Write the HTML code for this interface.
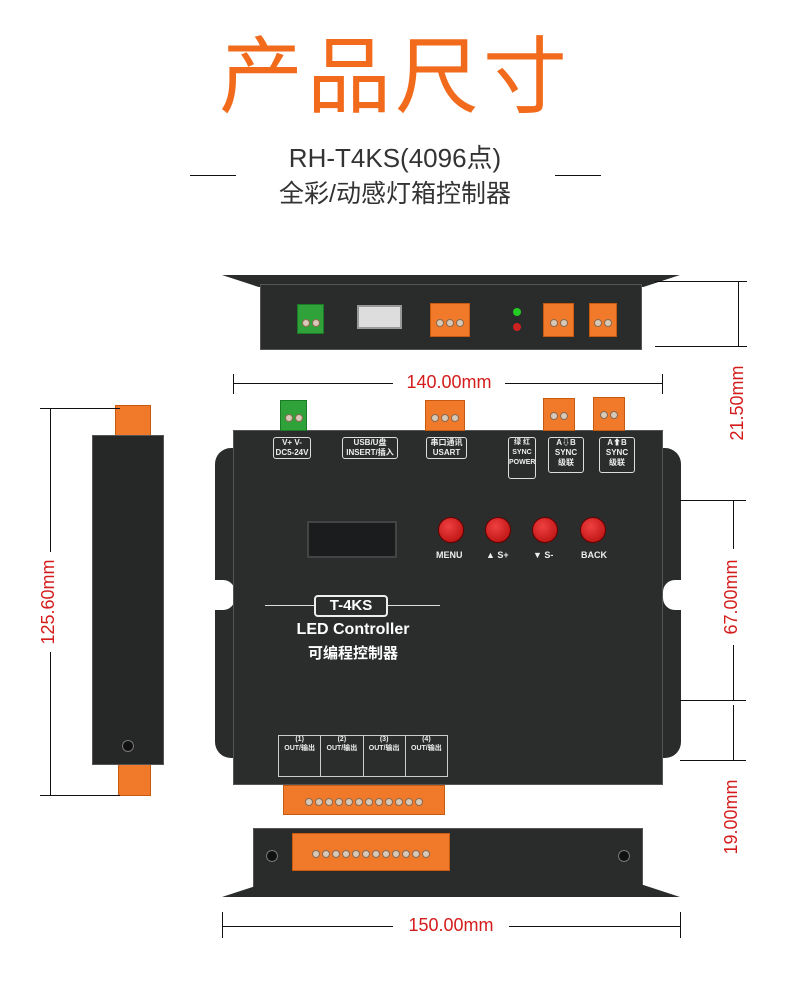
<!DOCTYPE html>
<html><head><meta charset="utf-8"><style>
*{margin:0;padding:0;box-sizing:border-box}
body{width:790px;height:986px;background:#fff;position:relative;overflow:hidden;font-family:"Liberation Sans","Noto Sans CJK SC",sans-serif}
.a{position:absolute}
.dk{background:#2a2c2c}
.or{background:#f07a2a;border:1px solid #c85a10}
.gr{background:#2fa33a;border:1px solid #1b7a25}
.scr{width:8px;height:8px;border-radius:50%;background:#d8c8b8;border:1px solid #8a6a50;display:inline-block;margin:0 1px}
.red{color:#d41c1c;font-size:18px}
.ln{background:#111}
.vt{transform:rotate(-90deg);transform-origin:center;white-space:nowrap}
.btn{width:26px;height:26px;border-radius:50%;background:radial-gradient(circle at 40% 35%,#f04040,#b00a0a);border:1px solid #600}
.lbl{color:#eee;font-size:8px;font-weight:bold;text-align:center;border:1px solid #ddd;border-radius:3px;line-height:10px}
</style></head><body>
<div class="a" style="left:0;top:10px;width:790px;text-align:center;color:#f26b1d;font-size:84px;letter-spacing:4px">产品尺寸</div>
<div class="a" style="left:0;top:138px;width:790px;text-align:center;color:#333;font-size:26px">RH-T4KS(4096点)</div>
<div class="a" style="left:0;top:174px;width:790px;text-align:center;color:#333;font-size:25px">全彩/动感灯箱控制器</div>
<div class="a ln" style="left:190px;top:175px;width:46px;height:1px"></div>
<div class="a ln" style="left:555px;top:175px;width:46px;height:1px"></div>

<!-- top view -->
<div class="a dk" style="left:222px;top:275px;width:458px;height:12px;clip-path:polygon(0 0,100% 0,92% 100%,8% 100%)"></div>
<div class="a dk" style="left:260px;top:284px;width:382px;height:66px;border:1px solid #555"></div>
<div class="a gr" style="left:297px;top:304px;width:27px;height:30px;text-align:center;padding-top:9px"><span class="scr"></span><span class="scr"></span></div>
<div class="a" style="left:357px;top:305px;width:45px;height:24px;background:#ddd;border:2px solid #999"></div>
<div class="a or" style="left:430px;top:303px;width:40px;height:34px;text-align:center;padding-top:10px"><span class="scr"></span><span class="scr"></span><span class="scr"></span></div>
<div class="a" style="left:513px;top:308px;width:8px;height:8px;border-radius:50%;background:#2c2"></div>
<div class="a" style="left:513px;top:323px;width:8px;height:8px;border-radius:50%;background:#c22"></div>
<div class="a or" style="left:543px;top:303px;width:31px;height:34px;text-align:center;padding-top:10px"><span class="scr"></span><span class="scr"></span></div>
<div class="a or" style="left:589px;top:303px;width:28px;height:34px;text-align:center;padding-top:10px"><span class="scr"></span><span class="scr"></span></div>
<div class="a ln" style="left:655px;top:281px;width:92px;height:1px"></div>
<div class="a ln" style="left:655px;top:346px;width:92px;height:1px"></div>
<div class="a ln" style="left:738px;top:282px;width:1px;height:64px"></div>
<div class="a red vt" style="left:693px;top:392px;width:90px;height:22px;text-align:center">21.50mm</div>

<!-- 140 -->
<div class="a ln" style="left:233px;top:374px;width:1px;height:20px"></div>
<div class="a ln" style="left:662px;top:374px;width:1px;height:20px"></div>
<div class="a ln" style="left:233px;top:383px;width:430px;height:1px"></div>
<div class="a red" style="left:393px;top:372px;width:112px;background:#fff;text-align:center">140.00mm</div>

<!-- main device -->
<div class="a dk" style="left:215px;top:448px;width:466px;height:310px;border-radius:16px"></div>
<div class="a" style="left:215px;top:580px;width:20px;height:30px;background:#fff;border-radius:0 12px 12px 0"></div>
<div class="a" style="left:663px;top:580px;width:20px;height:30px;background:#fff;border-radius:12px 0 0 12px"></div>
<div class="a dk" style="left:233px;top:430px;width:430px;height:355px;background:#2b2d2d;border:1px solid #555"></div>
<div class="a gr" style="left:280px;top:400px;width:27px;height:31px;text-align:center;padding-top:8px"><span class="scr"></span><span class="scr"></span></div>
<div class="a or" style="left:425px;top:400px;width:40px;height:31px;text-align:center;padding-top:8px"><span class="scr"></span><span class="scr"></span><span class="scr"></span></div>
<div class="a or" style="left:543px;top:398px;width:32px;height:33px;text-align:center;padding-top:8px"><span class="scr"></span><span class="scr"></span></div>
<div class="a or" style="left:593px;top:397px;width:32px;height:34px;text-align:center;padding-top:8px"><span class="scr"></span><span class="scr"></span></div>
<div class="a lbl" style="left:273px;top:437px;width:38px">V+ V-<br>DC5-24V</div>
<div class="a lbl" style="left:342px;top:437px;width:56px">USB/U盘<br>INSERT/插入</div>
<div class="a lbl" style="left:426px;top:437px;width:41px">串口通讯<br>USART</div>
<div class="a lbl" style="left:508px;top:437px;width:28px;height:42px;font-size:7px">绿 红<br>SYNC<br>POWER</div>
<div class="a lbl" style="left:548px;top:437px;width:36px;height:36px">A⇩B<br>SYNC<br>级联</div>
<div class="a lbl" style="left:599px;top:437px;width:36px;height:36px">A⬆B<br>SYNC<br>级联</div>
<div class="a" style="left:307px;top:521px;width:90px;height:37px;background:#1a1c1e;border:2px solid #444"></div>
<div class="a btn" style="left:438px;top:517px"></div>
<div class="a btn" style="left:485px;top:517px"></div>
<div class="a btn" style="left:532px;top:517px"></div>
<div class="a btn" style="left:580px;top:517px"></div>
<div class="a" style="left:430px;top:550px;width:180px;color:#eee;font-size:9px;font-weight:bold;word-spacing:0"><span style="position:absolute;left:6px">MENU</span><span style="position:absolute;left:56px">▲ S+</span><span style="position:absolute;left:103px">▼ S-</span><span style="position:absolute;left:151px">BACK</span></div>
<div class="a" style="left:265px;top:605px;width:175px;height:1px;background:#ddd"></div>
<div class="a" style="left:314px;top:595px;width:74px;height:22px;border:2px solid #eee;border-radius:4px;background:#2b2d2d;color:#fff;font-weight:bold;font-size:15px;text-align:center;line-height:18px">T-4KS</div>
<div class="a" style="left:283px;top:621px;width:140px;color:#fff;font-weight:bold;font-size:16px;text-align:center">LED Controller</div>
<div class="a" style="left:283px;top:642px;width:140px;color:#fff;font-weight:bold;font-size:15px;text-align:center">可编程控制器</div>
<div class="a" style="left:278px;top:735px;width:170px;height:42px;border:1px solid #ccc;color:#eee;font-size:7px;font-weight:bold;display:flex">
<div style="flex:1;border-right:1px solid #ccc;text-align:center">(1)<br>OUT/输出</div><div style="flex:1;border-right:1px solid #ccc;text-align:center">(2)<br>OUT/输出</div><div style="flex:1;border-right:1px solid #ccc;text-align:center">(3)<br>OUT/输出</div><div style="flex:1;text-align:center">(4)<br>OUT/输出</div></div>
<div class="a or" style="left:283px;top:785px;width:162px;height:30px;text-align:center;padding-top:12px;font-size:0"><span class="scr"></span><span class="scr"></span><span class="scr"></span><span class="scr"></span><span class="scr"></span><span class="scr"></span><span class="scr"></span><span class="scr"></span><span class="scr"></span><span class="scr"></span><span class="scr"></span><span class="scr"></span></div>

<!-- side view -->
<div class="a or" style="left:115px;top:405px;width:36px;height:32px"></div>
<div class="a or" style="left:118px;top:764px;width:33px;height:32px"></div>
<div class="a dk" style="left:92px;top:435px;width:72px;height:330px;border:1px solid #555;background:#262828"></div>
<div class="a" style="left:122px;top:740px;width:12px;height:12px;border-radius:50%;background:#111;border:1px solid #777"></div>
<div class="a ln" style="left:40px;top:408px;width:80px;height:1px"></div>
<div class="a ln" style="left:40px;top:795px;width:80px;height:1px"></div>
<div class="a ln" style="left:50px;top:408px;width:1px;height:387px"></div>
<div class="a red vt" style="left:0;top:590px;width:100px;height:24px;text-align:center;background:#fff">125.60mm</div>

<!-- 67 / 19 -->
<div class="a ln" style="left:680px;top:500px;width:66px;height:1px"></div>
<div class="a ln" style="left:680px;top:700px;width:66px;height:1px"></div>
<div class="a ln" style="left:680px;top:760px;width:66px;height:1px"></div>
<div class="a ln" style="left:733px;top:500px;width:1px;height:200px"></div>
<div class="a ln" style="left:733px;top:705px;width:1px;height:55px"></div>
<div class="a red vt" style="left:685px;top:585px;width:96px;height:24px;text-align:center;background:#fff">67.00mm</div>
<div class="a red vt" style="left:685px;top:805px;width:96px;height:24px;text-align:center">19.00mm</div>

<!-- bottom view -->
<div class="a dk" style="left:253px;top:828px;width:390px;height:60px;border:1px solid #555"></div>
<div class="a dk" style="left:222px;top:885px;width:458px;height:12px;clip-path:polygon(8% 0,92% 0,100% 100%,0 100%)"></div>
<div class="a" style="left:266px;top:850px;width:12px;height:12px;border-radius:50%;background:#111;border:1px solid #777"></div>
<div class="a" style="left:618px;top:850px;width:12px;height:12px;border-radius:50%;background:#111;border:1px solid #777"></div>
<div class="a or" style="left:292px;top:833px;width:158px;height:38px;text-align:center;padding-top:16px;font-size:0"><span class="scr"></span><span class="scr"></span><span class="scr"></span><span class="scr"></span><span class="scr"></span><span class="scr"></span><span class="scr"></span><span class="scr"></span><span class="scr"></span><span class="scr"></span><span class="scr"></span><span class="scr"></span></div>
<div class="a ln" style="left:222px;top:912px;width:1px;height:26px"></div>
<div class="a ln" style="left:680px;top:912px;width:1px;height:26px"></div>
<div class="a ln" style="left:222px;top:926px;width:458px;height:1px"></div>
<div class="a red" style="left:393px;top:915px;width:116px;background:#fff;text-align:center">150.00mm</div>
</body></html>
